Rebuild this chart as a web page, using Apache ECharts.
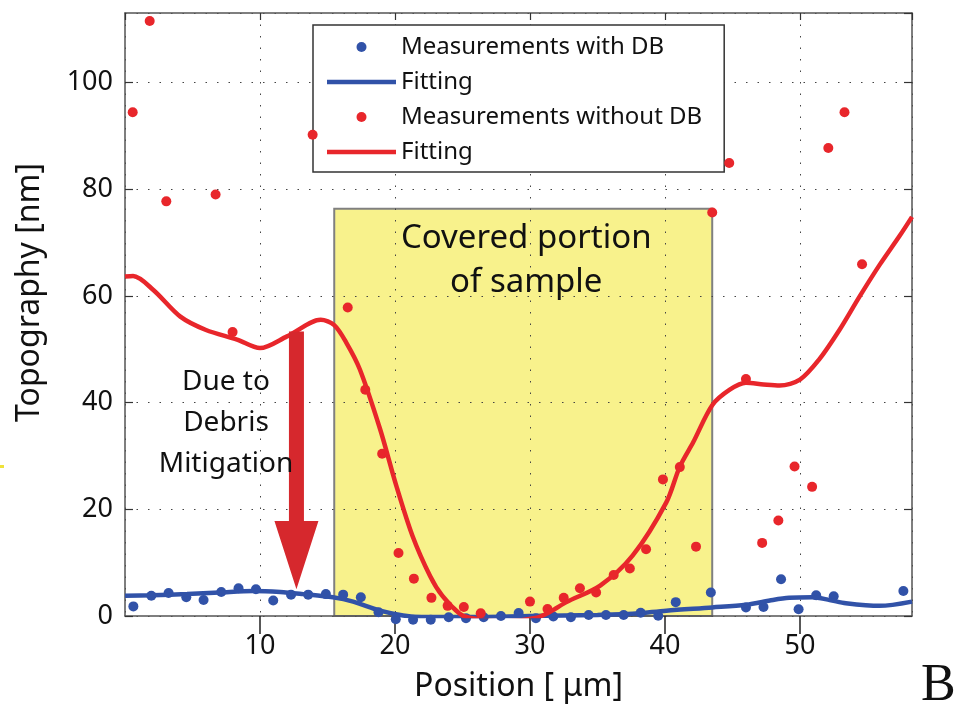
<!DOCTYPE html>
<html><head><meta charset="utf-8">
<script src="https://cdn.jsdelivr.net/npm/echarts@6/dist/echarts.min.js"></script>
<style>html,body{margin:0;padding:0;background:#fff}#c{width:961px;height:708px}</style>
</head><body><div id="c"></div>
<script>
// Measurements with debris mitigation (blue dots): [position µm, topography nm]
const withDB = [[0.62,1.8],[1.95,3.8],[3.23,4.3],[4.54,3.5],[5.82,3.0],[7.13,4.5],[8.41,5.2],[9.7,5.0],[10.98,2.9],[12.3,4.0],[13.57,4.0],[14.88,4.1],[16.16,4.0],[17.47,3.5],[18.78,0.7],[20.06,-0.6],[21.34,-0.7],[22.65,-0.7],[23.98,-0.25],[25.26,-0.4],[26.57,-0.25],[27.85,0],[29.16,0.56],[30.44,-0.4],[31.73,-0.1],[33.03,-0.25],[34.35,0.2],[35.63,0.2],[36.94,0.2],[38.2,0.6],[39.5,0.06],[40.8,2.6],[43.4,4.4],[46.0,1.6],[47.3,1.7],[48.6,6.9],[49.9,1.25],[51.2,3.9],[52.5,3.7],[57.66,4.7]];
// Fitted curve for measurements with DB
const withDBFit = [[0,3.8],[2,3.9],[4.6,4.1],[7,4.4],[9.5,4.7],[11.5,4.5],[13.2,4.1],[15.4,3.5],[16.9,2.7],[18.9,1.0],[20.6,0.1],[22,-0.2],[25,-0.2],[30,0],[35,0.2],[37.6,0.4],[40.1,1.0],[43.5,1.6],[46,2.1],[48,3.0],[49.2,3.4],[50.9,3.5],[52.2,3.0],[53.4,2.4],[55.9,1.9],[58.3,2.7]];
// Measurements without debris mitigation (red dots)
const withoutDB = [[0.57,94.4],[1.83,111.5],[3.06,77.7],[6.71,79.0],[7.97,53.2],[13.9,90.2],[16.5,57.8],[17.8,42.4],[19.05,30.4],[20.26,11.8],[21.4,7.0],[22.7,3.4],[23.9,1.9],[25.1,1.7],[26.35,0.5],[30.0,2.7],[31.3,1.3],[32.5,3.4],[33.7,5.2],[34.9,4.4],[36.2,7.7],[37.4,8.9],[38.6,12.5],[39.85,25.6],[41.1,27.9],[42.3,13.0],[43.5,75.6],[44.76,84.9],[46.0,44.4],[47.2,13.7],[48.4,17.9],[49.6,28.0],[50.9,24.2],[52.1,87.7],[53.3,94.4],[54.6,65.9]];
// Fitted curve for measurements without DB
const withoutDBFit = [[0,63.6],[0.6,63.7],[2.1,61.1],[4.1,56.1],[6.0,53.6],[8.3,51.8],[10,50.2],[12,52.4],[14.5,55.5],[15.5,54.5],[16.4,51.2],[17.4,46.2],[18.9,35],[20.1,24.4],[21.3,15],[22.6,7.5],[23.5,3.8],[24.8,0.4],[25.5,-0.3],[28,-1],[30.5,-0.3],[31.5,0.8],[32.7,2.6],[35.2,5.7],[37.6,11.3],[40.1,21.3],[41.1,28],[42.1,32.6],[43.5,39.5],[44.8,42.4],[46,43.7],[47.3,43.4],[48.5,43.2],[50,44.3],[51.4,48],[52.9,53.5],[54.4,59.8],[55.9,65.8],[57.4,71.3],[58.3,74.8]];
// Covered portion of sample: [x start, x end, top]
const coveredRegion = [15.5, 43.5, 76.3];
// Arrow: [x, top, head start, tip]
const arrowSpec = [12.7, 53.3, 17.8, 5.0];
// Annotation anchor (data coords) for "Due to Debris Mitigation"
const noteAnchor = [7.48, 36.1];
const xRange = [0, 58.3];
const yRange = [0, 113];
const legendNames = ['Measurements with DB', 'Fitting', 'Measurements without DB', 'Fitting '];

const BLUE = '#3152a8', RED = '#e8262b', FONT = 'Noto Sans';
const LINE_ICON = 'path://M0,0H69V4.5H0Z';
const chart = echarts.init(document.getElementById('c'), null, {renderer: 'canvas'});
const gridDots = {show: true, lineStyle: {color: '#444', type: [1.5, 10], width: 1}};
chart.setOption({
  animation: false,
  grid: {left: 125, right: 49, top: 13, bottom: 91, containLabel: false},
  legend: {
    orient: 'vertical', left: 313, top: 25,
    padding: [10, 22, 8, 14],
    itemWidth: 69, itemHeight: 10, itemGap: 11,
    backgroundColor: '#fff', borderColor: '#333', borderWidth: 1.5,
    textStyle: {fontSize: 24, fontFamily: FONT, color: '#111'},
    data: [
      {name: legendNames[0], icon: 'circle'},
      {name: legendNames[1], icon: LINE_ICON},
      {name: legendNames[2], icon: 'circle'},
      {name: legendNames[3], icon: LINE_ICON}
    ],
    formatter: n => n.trim()
  },
  xAxis: [{
    type: 'value', min: xRange[0], max: xRange[1], interval: 10, position: 'bottom',
    axisLine: {show: true, onZero: false, lineStyle: {color: '#555', width: 1.5}},
    axisTick: {show: true, inside: false, length: 18, lineStyle: {color: '#222', width: 1.5}},
    axisLabel: {fontSize: 27, fontFamily: FONT, color: '#111', margin: 17, showMinLabel: false, showMaxLabel: false},
    splitLine: gridDots,
    name: 'Position [ μm]', nameLocation: 'middle', nameGap: 55, nameMoveOverlap: false,
    nameTextStyle: {fontSize: 32, fontFamily: FONT, color: '#111'}
  }, {
    type: 'value', min: xRange[0], max: xRange[1], interval: 10, position: 'top',
    axisLine: {show: true, onZero: false, lineStyle: {color: '#555', width: 1.5}},
    axisTick: {show: true, inside: true, length: 7, lineStyle: {color: '#333', width: 1.2}},
    axisLabel: {show: false}, splitLine: {show: false}
  }],
  yAxis: [{
    type: 'value', min: yRange[0], max: yRange[1], interval: 20, position: 'left',
    axisLine: {show: true, onZero: false, lineStyle: {color: '#555', width: 1.5}},
    axisTick: {show: true, inside: true, length: 8, lineStyle: {color: '#333', width: 1.2}},
    axisLabel: {fontSize: 27, fontFamily: FONT, color: '#111', margin: 12, showMaxLabel: false},
    splitLine: gridDots,
    name: 'Topography [nm]', nameLocation: 'middle', nameGap: 79, nameRotate: 90,
    nameTextStyle: {fontSize: 32, fontFamily: FONT, color: '#111', padding: [0, 0, 0, 44]}
  }, {
    type: 'value', min: yRange[0], max: yRange[1], interval: 20, position: 'right',
    axisLine: {show: true, onZero: false, lineStyle: {color: '#555', width: 1.5}},
    axisTick: {show: true, inside: true, length: 8, lineStyle: {color: '#333', width: 1.2}},
    axisLabel: {show: false}, splitLine: {show: false}
  }],
  series: [
    {
      type: 'custom', z: -1, silent: true, data: [coveredRegion],
      renderItem(params, api) {
        const p1 = api.coord([api.value(0), api.value(2)]);
        const p2 = api.coord([api.value(1), yRange[0]]);
        return {type: 'group', children: [
          {type: 'rect', shape: {x: p1[0], y: p1[1], width: p2[0] - p1[0], height: p2[1] - p1[1]},
           style: {fill: '#f8f28c', stroke: '#808080', lineWidth: 2}},
          {type: 'text', style: {text: 'Covered portion\nof sample', x: (p1[0] + p2[0]) / 2 + 3, y: p1[1] + 8,
            align: 'center', verticalAlign: 'top', font: '33px "Noto Sans"', lineHeight: 44, fill: '#111'}}
        ]};
      }
    },
    {name: legendNames[0], type: 'scatter', data: withDB, symbolSize: 10, itemStyle: {color: BLUE, opacity: 1}, clip: false, z: 3},
    {name: legendNames[1], type: 'line', data: withDBFit, smooth: 0.3, symbol: 'none', lineStyle: {color: BLUE, width: 4.5}, itemStyle: {color: BLUE}, z: 4},
    {name: legendNames[2], type: 'scatter', data: withoutDB, symbolSize: 10, itemStyle: {color: RED, opacity: 1}, clip: false, z: 5},
    {name: legendNames[3], type: 'line', data: withoutDBFit, smooth: 0.3, symbol: 'none', lineStyle: {color: RED, width: 4.5}, itemStyle: {color: RED}, z: 6},
    {
      type: 'custom', z: 7, silent: true, data: [arrowSpec],
      renderItem(params, api) {
        const top = api.coord([api.value(0), api.value(1)]);
        const hs = api.coord([api.value(0), api.value(2)]);
        const tip = api.coord([api.value(0), api.value(3)]);
        const cx = top[0], sw = 7.5, hw = 22;
        return {type: 'polygon', shape: {points: [
          [cx - sw, top[1]], [cx + sw, top[1]], [cx + sw, hs[1]], [cx + hw, hs[1]],
          [cx, tip[1]], [cx - hw, hs[1]], [cx - sw, hs[1]]]},
          style: {fill: '#d6282d'}};
      }
    },
    {
      type: 'custom', z: 7, silent: true, data: [noteAnchor],
      renderItem(params, api) {
        const p = api.coord([api.value(0), api.value(1)]);
        return {type: 'text', style: {text: 'Due to\nDebris\nMitigation', x: p[0], y: p[1],
          align: 'center', verticalAlign: 'middle', font: '28px "Noto Sans"', lineHeight: 41, fill: '#111'}};
      }
    }
  ],
  graphic: [
    {type: 'text', left: 921, top: 660, style: {text: 'B', font: '52px "Liberation Serif"', fill: '#111'}},
    {type: 'rect', left: 0, top: 465, shape: {width: 4, height: 3}, style: {fill: '#efe23a'}}
  ]
});
</script></body></html>
